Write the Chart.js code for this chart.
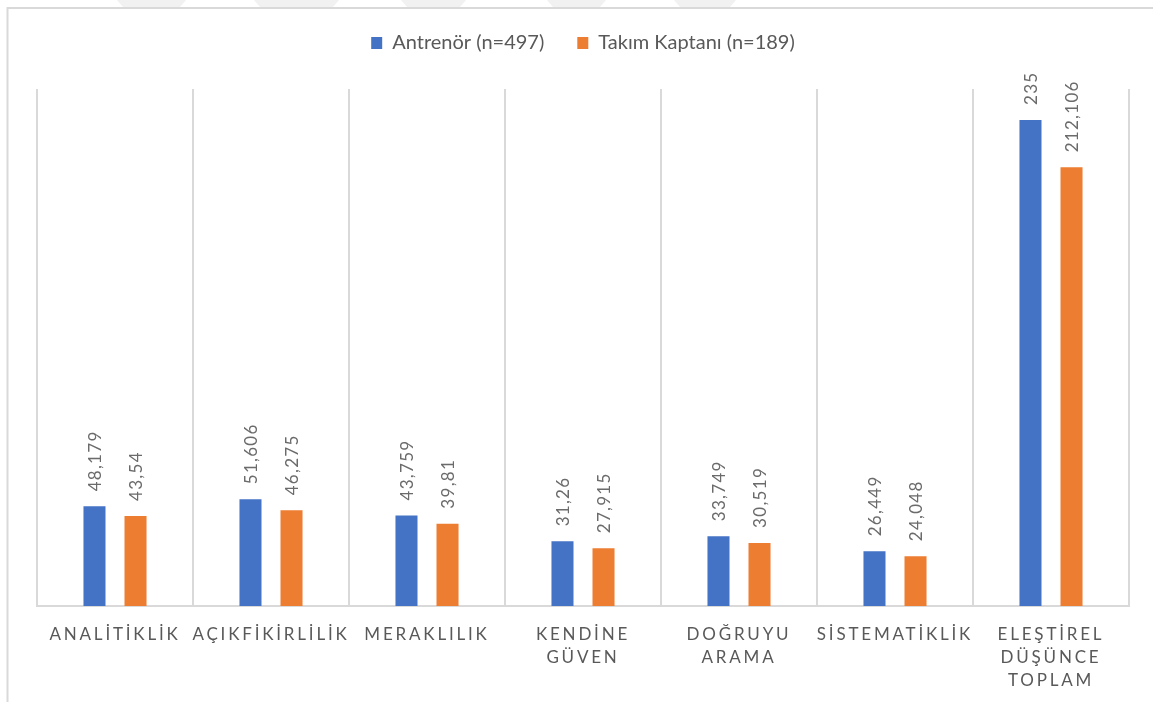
<!DOCTYPE html>
<html lang="tr">
<head>
<meta charset="utf-8">
<title>Eleştirel Düşünce Puanları</title>
<script src="https://cdn.jsdelivr.net/npm/chart.js@4.4.1/dist/chart.umd.min.js"></script>
<style>
  html, body { margin: 0; padding: 0; background: #ffffff; }
  #wrap { width: 1153px; height: 702px; }
  canvas { display: block; }
</style>
</head>
<body>
<div id="wrap"><canvas id="chart" width="1153" height="702"></canvas></div>
<script>
// Category labels (multi-line where the label wraps)
const categories = [
  ['ANALİTİKLİK'],
  ['AÇIKFİKİRLİLİK'],
  ['MERAKLILIK'],
  ['KENDİNE', 'GÜVEN'],
  ['DOĞRUYU', 'ARAMA'],
  ['SİSTEMATİKLİK'],
  ['ELEŞTİREL', 'DÜŞÜNCE', 'TOPLAM']
];

const seriesNames = ['Antrenör (n=497)', 'Takım Kaptanı (n=189)'];

const antrenorValues = [48.179, 51.606, 43.759, 31.26, 33.749, 26.449, 235];
const kaptanValues = [43.54, 46.275, 39.81, 27.915, 30.519, 24.048, 212.106];

const yMin = 0;
const yMax = 250;

const BLUE = '#4472C4';
const ORANGE = '#ED7D31';
const TEXT_GRAY = '#595959';
const LABEL_GRAY = '#6b6b6b';
const LINE_GRAY = '#d9d9d9';
const FONT = 'Lato, "Open Sans", "Liberation Sans", sans-serif';

// Turkish decimal comma
function formatValue(v) {
  return String(v).replace('.', ',');
}

// White background, the outer frame and the faint stripe pattern along the top edge
const backgroundPlugin = {
  id: 'pageBackground',
  beforeDraw(chart) {
    const ctx = chart.ctx;
    ctx.save();
    ctx.fillStyle = '#ffffff';
    ctx.fillRect(0, 0, chart.width, chart.height);

    ctx.fillStyle = '#f1f1f1';
    const bands = [[123, 180], [260, 333], [407, 460], [553, 600], [680, 730]];
    bands.forEach(([a, b]) => {
      ctx.beginPath();
      ctx.moveTo(a - 6, 0);
      ctx.lineTo(b + 6, 0);
      ctx.lineTo(b, 7);
      ctx.lineTo(a, 7);
      ctx.closePath();
      ctx.fill();
    });

    ctx.strokeStyle = LINE_GRAY;
    ctx.lineWidth = 2;
    ctx.beginPath();
    ctx.moveTo(7.5, chart.height);
    ctx.lineTo(7.5, 8);
    ctx.lineTo(chart.width, 8);
    ctx.stroke();
    ctx.restore();
  }
};

// Extra room between the legend and the plot area
const legendSpacer = {
  id: 'legendSpacer',
  beforeInit(chart) {
    const legend = chart.legend;
    if (!legend) return;
    const origFit = legend.fit;
    legend.fit = function () {
      origFit.call(this);
      this.height += 26;
    };
  }
};

// Letter-spaced category labels on the x axis
const spacedTicks = {
  id: 'spacedTicks',
  afterLayout(chart) {
    const scale = chart.scales.x;
    if (!scale || scale._spacedWrapped) return;
    const orig = scale.drawLabels;
    scale.drawLabels = function (area) {
      const ctx = this.ctx;
      ctx.save();
      ctx.letterSpacing = '2.8px';
      orig.call(this, area);
      ctx.restore();
    };
    scale._spacedWrapped = true;
  }
};

// Vertical value labels above each bar
const valueLabels = {
  id: 'valueLabels',
  afterDatasetsDraw(chart) {
    const ctx = chart.ctx;
    ctx.save();
    ctx.font = '17px ' + FONT;
    ctx.fillStyle = LABEL_GRAY;
    ctx.letterSpacing = '1.3px';
    ctx.textAlign = 'left';
    ctx.textBaseline = 'middle';
    chart.data.datasets.forEach((ds, di) => {
      const meta = chart.getDatasetMeta(di);
      meta.data.forEach((bar, i) => {
        ctx.save();
        ctx.translate(bar.x, bar.y - 15);
        ctx.rotate(-Math.PI / 2);
        ctx.fillText(formatValue(ds.data[i]), 0, 1);
        ctx.restore();
      });
    });
    ctx.restore();
  }
};

new Chart(document.getElementById('chart'), {
  type: 'bar',
  data: {
    labels: categories,
    datasets: [
      {
        label: seriesNames[0],
        data: antrenorValues,
        backgroundColor: BLUE,
        categoryPercentage: 0.526,
        barPercentage: 0.537
      },
      {
        label: seriesNames[1],
        data: kaptanValues,
        backgroundColor: ORANGE,
        categoryPercentage: 0.526,
        barPercentage: 0.537
      }
    ]
  },
  options: {
    responsive: false,
    animation: false,
    layout: {
      padding: { left: 37, right: 24, top: 0, bottom: 0 }
    },
    plugins: {
      legend: {
        position: 'top',
        align: 'center',
        labels: {
          boxWidth: 11,
          boxHeight: 12,
          padding: 33,
          color: TEXT_GRAY,
          font: { family: FONT, size: 20 }
        }
      },
      tooltip: { enabled: false }
    },
    scales: {
      x: {
        grid: {
          display: true,
          offset: true,
          color: LINE_GRAY,
          lineWidth: 2,
          drawTicks: false
        },
        border: { display: true, color: LINE_GRAY, width: 2 },
        ticks: {
          color: TEXT_GRAY,
          font: { family: FONT, size: 17, lineHeight: 1.35 },
          padding: 17,
          autoSkip: false,
          maxRotation: 0,
          minRotation: 0
        },
        afterFit(scale) {
          scale.height = 96;
        }
      },
      y: {
        display: false,
        min: yMin,
        max: yMax
      }
    }
  },
  plugins: [backgroundPlugin, legendSpacer, spacedTicks, valueLabels]
});
</script>
</body>
</html>
